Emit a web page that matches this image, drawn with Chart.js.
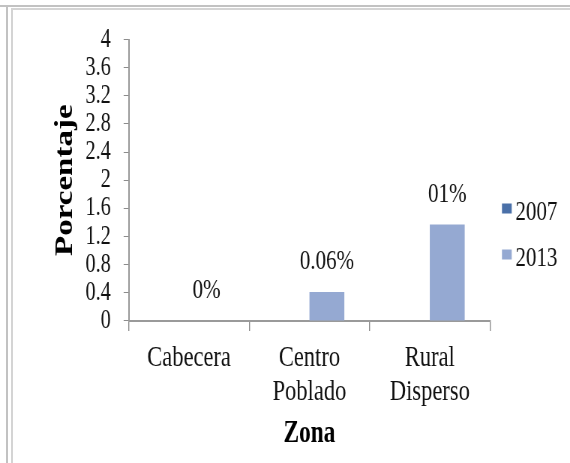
<!DOCTYPE html>
<html>
<head>
<meta charset="utf-8">
<script src="https://cdn.jsdelivr.net/npm/chart.js@4/dist/chart.umd.min.js"></script>
<style>
  html, body { margin: 0; padding: 0; background: #fff; overflow: hidden; }
  /* the source picture is squeezed sideways, so the chart is drawn wider and scaled down */
  #wrap { position: absolute; left: 0; top: 0; width: 760px; height: 463px; transform: scaleX(0.75); transform-origin: 0 0; }
  .rule { position: absolute; background: #c2c2c2; }
</style>
</head>
<body>
<div id="wrap"><canvas id="chart"></canvas></div>
<!-- page frame around the chart -->
<div class="rule" style="left:0; top:5px; width:570px; height:2px;"></div>
<div class="rule" style="left:11px; top:8px; width:559px; height:2px; background:#d4d4d4;"></div>
<div class="rule" style="left:6px; top:5px; width:2px; height:458px;"></div>
<div class="rule" style="left:11px; top:8px; width:2px; height:455px; background:#d4d4d4;"></div>

<script>
const zonas = [['Cabecera'], ['Centro', 'Poblado'], ['Rural', 'Disperso']];
const years = ['2007', '2013'];
const values2007 = [0, 0, 0];
const values2013 = [0, 0.41, 1.37];
const labels2013 = ['0%', '0.06%', '01%'];
const yMax = 4;
const yStep = 0.4;

const colors = ['#4a70a8', '#95a9d2'];
const serif = "'Liberation Serif', 'Times New Roman', serif";

Chart.defaults.font.family = serif;
Chart.defaults.color = '#111';

// text above the 2013 bars
const barText = {
  id: 'barText',
  afterDatasetsDraw(chart) {
    const ctx = chart.ctx;
    const meta = chart.getDatasetMeta(1);
    ctx.save();
    ctx.font = '28px ' + serif;
    ctx.fillStyle = '#111';
    ctx.textAlign = 'center';
    ctx.textBaseline = 'middle';
    meta.data.forEach((bar, i) => {
      ctx.fillText(labels2013[i], bar.x, bar.y - 30);
    });
    ctx.restore();
  }
};

// legend to the right of the plot
const sideLegend = {
  id: 'sideLegend',
  afterDraw(chart) {
    const ctx = chart.ctx;
    const area = chart.chartArea;
    const x0 = area.right + 16;
    ctx.save();
    ctx.font = '28px ' + serif;
    ctx.textBaseline = 'middle';
    chart.data.datasets.forEach((ds, i) => {
      const yc = area.top + 169 + i * 46;
      ctx.fillStyle = ds.backgroundColor;
      ctx.fillRect(x0, yc - 5, 13, 10);
      ctx.fillStyle = '#111';
      ctx.fillText(ds.label, x0 + 18, yc + 4);
    });
    ctx.restore();
  }
};

new Chart(document.getElementById('chart'), {
  type: 'bar',
  data: {
    labels: zonas,
    datasets: [
      { label: years[0], data: values2007, backgroundColor: colors[0] },
      { label: years[1], data: values2013, backgroundColor: colors[1] }
    ]
  },
  options: {
    responsive: true,
    maintainAspectRatio: false,
    animation: false,
    devicePixelRatio: 1,
    categoryPercentage: 0.58,
    barPercentage: 1,
    layout: { padding: { left: 67.5, right: 106.7, top: 39.5, bottom: 6.4 } },
    plugins: {
      legend: { display: false },
      tooltip: { enabled: false }
    },
    scales: {
      x: {
        grid: { drawOnChartArea: false, tickLength: 10, color: '#8c8c8c', lineWidth: 1.4 },
        border: { color: '#9a9a9a', width: 2 },
        ticks: { font: { size: 30, lineHeight: 1.13 }, color: '#111', padding: 10 },
        title: {
          display: true, text: 'Zona', color: '#000',
          font: { size: 31, weight: 'bold' },
          padding: { top: -3.3, bottom: 4 }
        }
      },
      y: {
        min: 0,
        max: yMax,
        grid: { drawOnChartArea: false, tickLength: 7, color: '#8c8c8c' },
        border: { color: '#9a9a9a', width: 2 },
        ticks: {
          stepSize: yStep,
          autoSkip: false,
          font: { size: 27, lineHeight: 1 },
          color: '#111',
          padding: 17,
          callback: v => String(Number(v.toFixed(1)))
        },
        title: {
          display: true, text: 'Porcentaje', color: '#000',
          font: { size: 33, weight: 'bold' },
          padding: { top: 0, bottom: -10 }
        }
      }
    }
  },
  plugins: [barText, sideLegend]
});
</script>
</body>
</html>
